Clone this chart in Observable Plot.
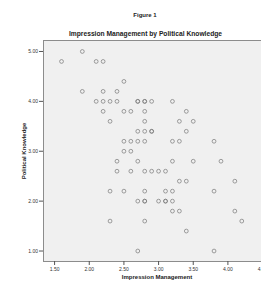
<!DOCTYPE html>
<html>
<head>
<meta charset="utf-8">
<script src="https://cdn.jsdelivr.net/npm/d3@7"></script>
<script src="https://cdn.jsdelivr.net/npm/@observablehq/plot@0.6"></script>
<style>
  html, body { margin: 0; padding: 0; background: #fff; }
  #wrap { position: relative; width: 261px; height: 282px; overflow: hidden; font-family: "Liberation Sans", Arial, sans-serif; }
  .t { position: absolute; font-weight: bold; color: #222; white-space: nowrap; transform: translate(-50%, -50%); }
  #chart { position: absolute; left: 0; top: 0; width: 270px; height: 282px; }
  #chart svg { max-width: none !important; }
</style>
</head>
<body>
<div id="wrap">
  <div id="chart"></div>
  <div class="t" style="left:145px; top:15px; font-size:6px;">Figure 1</div>
  <div class="t" style="left:145.5px; top:33px; font-size:6.7px;">Impression Management by Political Knowledge</div>
  <div class="t" style="left:157px; top:277px; font-size:6px;">Impression Management</div>
  <div class="t" style="left:24px; top:151px; font-size:6px; transform: translate(-50%, -50%) rotate(-90deg);">Political Knowledge</div>
</div>
<script>
// Impression Management (x) and Political Knowledge (y), one entry per respondent
const impression = [
  1.9,
  1.6, 2.1, 2.2,
  2.5,
  1.9, 2.2, 2.4,
  2.1, 2.2, 2.3, 2.4, 2.7, 2.7, 2.8, 2.8, 2.9, 3.2,
  2.2, 2.5, 2.6, 2.8, 3.4,
  2.3, 2.8, 3.3, 3.5,
  2.7, 2.8, 2.9, 2.9, 3.4,
  2.5, 2.6, 2.7, 2.8, 3.2, 3.3, 3.8,
  2.5, 2.6,
  2.4, 2.7, 3.2, 3.5, 3.9,
  2.4, 2.6, 2.8, 2.9, 3.0, 3.1,
  3.3, 3.4, 4.1,
  2.3, 2.5, 2.8, 3.1, 3.2, 3.8,
  2.7, 2.8, 2.8, 3.0, 3.1, 3.1, 3.2,
  3.2, 3.3, 4.1,
  2.3, 2.8, 4.2,
  3.4,
  2.7, 3.8
];
const knowledge = [
  5.0,
  4.8, 4.8, 4.8,
  4.4,
  4.2, 4.2, 4.2,
  4.0, 4.0, 4.0, 4.0, 4.0, 4.0, 4.0, 4.0, 4.0, 4.0,
  3.8, 3.8, 3.8, 3.8, 3.8,
  3.6, 3.6, 3.6, 3.6,
  3.4, 3.4, 3.4, 3.4, 3.4,
  3.2, 3.2, 3.2, 3.2, 3.2, 3.2, 3.2,
  3.0, 3.0,
  2.8, 2.8, 2.8, 2.8, 2.8,
  2.6, 2.6, 2.6, 2.6, 2.6, 2.6,
  2.4, 2.4, 2.4,
  2.2, 2.2, 2.2, 2.2, 2.2, 2.2,
  2.0, 2.0, 2.0, 2.0, 2.0, 2.0, 2.0,
  1.8, 1.8, 1.8,
  1.6, 1.6, 1.6,
  1.4,
  1.0, 1.0
];
const xTicks = [1.5, 2.0, 2.5, 3.0, 3.5, 4.0, 4.5];
const yTicks = [1.0, 2.0, 3.0, 4.0, 5.0];

const data = impression.map((x, i) => ({x, y: knowledge[i]}));
const fmt = d3.format(".2f");

const plot = Plot.plot({
  width: 270,
  height: 282,
  marginTop: 40,
  marginLeft: 43,
  marginRight: 1,
  marginBottom: 21,
  style: {fontFamily: "'Liberation Sans', Arial, sans-serif", fontSize: "5px", color: "#333", background: "transparent", maxWidth: "none"},
  x: {domain: [1.34, 4.6]},
  y: {domain: [0.79, 5.22]},
  marks: [
    Plot.frame({fill: "#f0f0f0", stroke: "#8c8c8c", strokeWidth: 1}),
    Plot.axisX({ticks: xTicks, tickFormat: fmt, tickSize: 4, tickPadding: 1.5, label: null, stroke: "#555"}),
    Plot.axisY({ticks: yTicks, tickFormat: fmt, tickSize: 4, tickPadding: 1.5, label: null, stroke: "#555"}),
    Plot.dot(data, {x: "x", y: "y", r: 1.9, stroke: "#777", strokeWidth: 0.7, fill: "none"})
  ]
});
plot.style.maxWidth = "none";
document.getElementById("chart").appendChild(plot);
</script>
</body>
</html>
